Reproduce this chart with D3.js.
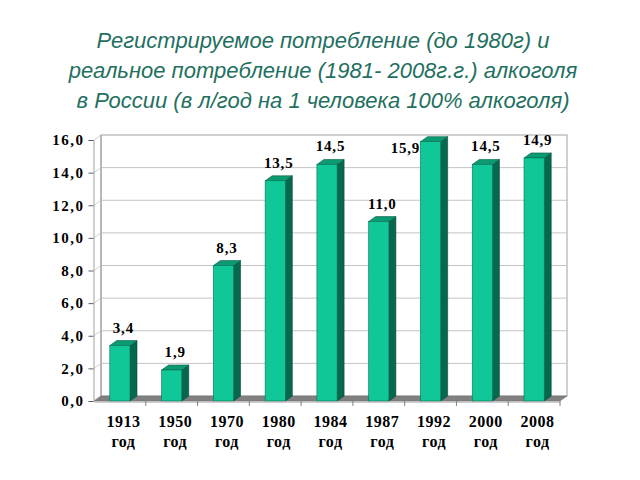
<!DOCTYPE html>
<html><head><meta charset="utf-8">
<script src="https://cdn.jsdelivr.net/npm/d3@7"></script>
<style>html,body{margin:0;padding:0;background:#fff;}svg{display:block;}</style>
</head><body>
<svg id="c" width="640" height="480"></svg>
<script>
const titleLines = [
  "Регистрируемое потребление (до 1980г) и",
  "реальное потребление (1981- 2008г.г.) алкоголя",
  "в России (в л/год на 1 человека 100% алкоголя)"
];
const years = ["1913","1950","1970","1980","1984","1987","1992","2000","2008"];
const yearSuffix = "год";
const values = [3.4, 1.9, 8.3, 13.5, 14.5, 11.0, 15.9, 14.5, 14.9];
const yTicks = [0, 2, 4, 6, 8, 10, 12, 14, 16];

const svg = d3.select("#c");
const fmt = v => v.toFixed(1).replace(".", ",");

// title
svg.append("g").selectAll("text").data(titleLines).join("text")
  .attr("x", 323).attr("y", (d, i) => 48 + i * 30)
  .attr("text-anchor", "middle")
  .attr("font-family", "Liberation Sans, Arial, sans-serif")
  .attr("font-style", "italic").attr("font-size", 22)
  .attr("fill", "#1f7060").text(d => d);

const x0 = 94, x1 = 560, dx = 7, dy = -5;
const x = d3.scaleBand().domain(years).range([x0, x1]).paddingInner(0.61).paddingOuter(0.305);
const xb = d3.scaleBand().domain(years).range([x0, x1]).padding(0);
const y = d3.scaleLinear().domain([0, 16]).range([401, 140]);

// back wall
const wall = svg.append("g");
wall.append("rect").attr("x", x0 + dx).attr("y", y(16) + dy)
  .attr("width", x1 - x0).attr("height", y(0) - y(16))
  .attr("fill", "#fff").attr("stroke", "#a0a0a0").attr("stroke-width", 1);
wall.selectAll("line.g").data(yTicks.filter(t => t > 0 && t < 16)).join("line")
  .attr("x1", x0 + dx).attr("x2", x1 + dx)
  .attr("y1", d => y(d) + dy).attr("y2", d => y(d) + dy)
  .attr("stroke", "#c4c4c4").attr("stroke-width", 1);
// side wall gridlines
wall.selectAll("line.s").data(yTicks).join("line")
  .attr("x1", x0).attr("x2", x0 + dx)
  .attr("y1", d => y(d)).attr("y2", d => y(d) + dy)
  .attr("stroke", "#d0d0d0").attr("stroke-width", 1);
wall.append("line").attr("x1", x0 + dx).attr("x2", x0 + dx)
  .attr("y1", y(0) + dy).attr("y2", y(16) + dy).attr("stroke", "#a0a0a0");

// floor
svg.append("path")
  .attr("d", `M${x0},${y(0)} L${x1},${y(0)} L${x1 + dx},${y(0) + dy} L${x0 + dx},${y(0) + dy} Z`)
  .attr("fill", "#808080").attr("stroke", "#707070").attr("stroke-width", 0.5);

// bars
const bars = svg.append("g").selectAll("g").data(years.map((k, i) => ({k, v: values[i]}))).join("g");
bars.append("path")
  .attr("d", d => { const l = x(d.k) + x.bandwidth(), t = y(d.v), b = y(0);
    return `M${l},${b} L${l},${t} L${l + dx},${t + dy} L${l + dx},${b + dy} Z`; })
  .attr("fill", "#06684e").attr("stroke", "#034a37").attr("stroke-width", 0.6);
bars.append("path")
  .attr("d", d => { const l = x(d.k), r = l + x.bandwidth(), t = y(d.v);
    return `M${l},${t} L${r},${t} L${r + dx},${t + dy} L${l + dx},${t + dy} Z`; })
  .attr("fill", "#0c9a72").attr("stroke", "#056048").attr("stroke-width", 0.6);
bars.append("rect")
  .attr("x", d => x(d.k)).attr("y", d => y(d.v))
  .attr("width", x.bandwidth()).attr("height", d => y(0) - y(d.v))
  .attr("fill", "#10c897").attr("stroke", "#067055").attr("stroke-width", 0.6);

// value labels
bars.append("text")
  .attr("x", d => d.v > 15.5 ? x(d.k) - 15 : x(d.k) + x.bandwidth() / 2 + dx / 2)
  .attr("y", d => d.v > 15.5 ? y(d.v) + 11 : y(d.v) - 13)
  .attr("text-anchor", "middle")
  .attr("font-family", "Liberation Serif, Times New Roman, serif")
  .attr("font-weight", "bold").attr("font-size", 15).attr("letter-spacing", 0.8)
  .attr("fill", "#000").text(d => fmt(d.v));

// y axis
const yAxis = svg.append("g").attr("transform", `translate(${x0 - 0.5},0)`)
  .call(d3.axisLeft(y).tickValues(yTicks).tickFormat(fmt).tickSize(5).tickPadding(4));
yAxis.select(".domain").attr("stroke", "#a0a0a0");
yAxis.selectAll(".tick line").attr("stroke", "#606060");
yAxis.selectAll(".tick text")
  .attr("font-family", "Liberation Serif, Times New Roman, serif")
  .attr("font-weight", "bold").attr("font-size", 15).attr("letter-spacing", 1.5).attr("fill", "#000");

// x axis
const xAxis = svg.append("g").attr("transform", `translate(0,${y(0) + 0.5})`)
  .call(d3.axisBottom(x).tickSize(0).tickFormat(""));
xAxis.select(".domain").attr("stroke", "#a0a0a0");
svg.append("g").selectAll("line").data(years.slice(1).concat(["__end"])).join("line")
  .attr("x1", d => d === "__end" ? x1 : xb(d)).attr("x2", d => d === "__end" ? x1 : xb(d))
  .attr("y1", y(0)).attr("y2", y(0) + 5).attr("stroke", "#808080");
const xl = svg.append("g").selectAll("text").data(years).join("text")
  .attr("text-anchor", "middle")
  .attr("font-family", "Liberation Serif, Times New Roman, serif")
  .attr("font-weight", "bold").attr("font-size", 16).attr("letter-spacing", 0.5).attr("fill", "#000");
xl.append("tspan").attr("x", d => x(d) + x.bandwidth() / 2 + dx / 2).attr("y", 427).text(d => d);
xl.append("tspan").attr("x", d => x(d) + x.bandwidth() / 2 + dx / 2).attr("y", 447).text(yearSuffix);
</script>
</body></html>
